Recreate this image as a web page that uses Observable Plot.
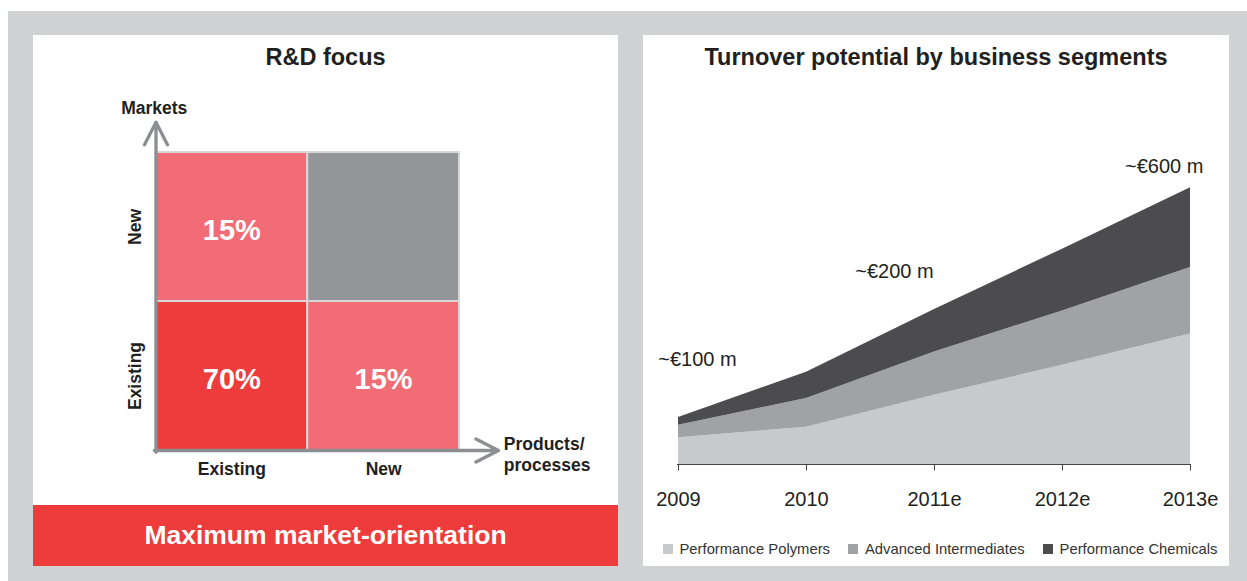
<!DOCTYPE html>
<html>
<head>
<meta charset="utf-8">
<script src="https://cdn.jsdelivr.net/npm/d3@7"></script>
<script src="https://cdn.jsdelivr.net/npm/@observablehq/plot@0.6"></script>
<style>
html, body { margin: 0; padding: 0; }
body { width: 1247px; height: 581px; position: relative; overflow: hidden; background: #fff;
       font-family: "Liberation Sans", Arial, sans-serif; color: #231f20; }
#frame { position: absolute; left: 8px; top: 11px; width: 1239px; height: 570px; background: #d1d2d4; }
.panel { position: absolute; top: 35px; height: 531px; background: #fff; }
.chart { position: absolute; left: 0; top: 0; }
.title { position: absolute; left: 0; right: 0; top: 11px; text-align: center; font-weight: bold;
         font-size: 23.5px; line-height: 23.5px; white-space: nowrap; }
.banner { position: absolute; left: 0; right: 0; top: 470px; height: 61px; background: #ee3b3b; color: #fff; }
.banner span { position: absolute; left: 0; right: 0; top: 16.6px; text-align: center; font-weight: bold;
               font-size: 26.5px; line-height: 26.5px; white-space: nowrap; }
#legend { position: absolute; left: 19.5px; top: 497px; }
#legend .lg-swatches { font-family: "Liberation Sans", Arial, sans-serif !important; font-size: 14.8px !important;
                       color: #333 !important; margin: 0 !important; min-height: 33px !important;
                       display: flex !important; align-items: center !important; flex-wrap: nowrap !important; }
#legend .lg-swatch { margin-right: 18px !important; display: inline-flex !important; align-items: center !important; white-space: nowrap; }
#legend .lg-swatch > svg { margin-right: 7px !important; }
</style>
</head>
<body>
<div id="frame"></div>
<div class="panel" id="left" style="left:33px; width:585px;">
  <div class="chart" id="matrix"></div>
  <div class="title">R&amp;D focus</div>
  <div class="banner"><span>Maximum market-orientation</span></div>
</div>
<div class="panel" id="right" style="left:643px; width:586px;">
  <div class="chart" id="turnover"></div>
  <div class="title">Turnover potential by business segments</div>
  <div id="legend"></div>
</div>
<script>
// ---------- data ----------
const products = ["Existing", "New"];          // x categories (left to right)
const markets = ["Existing", "New"];           // y categories (bottom to top)
const shares = [
  {market: "Existing", product: "Existing", share: 70},
  {market: "Existing", product: "New", share: 15},
  {market: "New", product: "Existing", share: 15},
  {market: "New", product: "New", share: null}
];
const productsAxisLabel = "Products/\nprocesses";
const marketsAxisLabel = "Markets";

const years = ["2009", "2010", "2011e", "2012e", "2013e"];
const segments = ["Performance Polymers", "Advanced Intermediates", "Performance Chemicals"];
const polymers = [58, 81, 150, 215, 283];
const intermediates = [27, 62, 94, 118, 144];
const chemicals = [17, 57, 92, 134, 173];
const annotations = [
  {year: "2009", label: "~€100 m"},
  {year: "2010", label: "~€200 m"},
  {year: "2013e", label: "~€600 m"}
];

// ---------- styles ----------
const font = "'Liberation Sans', Arial, sans-serif";
const segmentColors = ["#c8c9cb", "#a1a2a4", "#4c4c4e"];
const annotationOffsets = [{dx: 19, dy: -51}, {dx: 88, dy: -94}, {dx: -26.3, dy: -14.5}];
const cellFill = d => d.share == null ? "#949599" : d.share >= 50 ? "#ee3b3b" : "#f26c75";
const arrowEnds = [
  {x1: -0.011, y1: 0, x2: 2.257, y2: 0},
  {x1: 0, y1: -0.011, x2: 0, y2: 2.203}
];

// ---------- left: R&D matrix ----------
const px = d => products.indexOf(d.product);
const my = d => markets.indexOf(d.market);
const matrix = Plot.plot({
  width: 585, height: 470,
  marginLeft: 122.5, marginRight: 159, marginTop: 117, marginBottom: 55,
  x: {domain: [0, 2]},
  y: {domain: [0, 2]},
  color: {type: "identity"},
  style: {fontFamily: font, fontSize: "17.5px", fontWeight: "bold", color: "#231f20",
          background: "transparent", overflow: "visible"},
  marks: [
    Plot.rect(shares, {x1: px, x2: d => px(d) + 1, y1: my, y2: d => my(d) + 1,
                       fill: cellFill, stroke: "#d7d7d7", strokeWidth: 2}),
    Plot.text(shares.filter(d => d.share != null), {
      x: d => px(d) + 0.5, y: d => my(d) + 0.5, text: d => d.share + "%",
      fill: "white", fontSize: 29, fontWeight: "bold", dy: 4
    }),
    Plot.arrow(arrowEnds, {x1: "x1", y1: "y1", x2: "x2", y2: "y2", stroke: "#8d8e92",
                           strokeWidth: 3.3, headLength: 11.5, headAngle: 54}),
    Plot.axisX({ticks: [0.5, 1.5], tickFormat: v => products[Math.floor(v)], tickSize: 0,
                tickPadding: 12, label: null, fontWeight: "bold"}),
    Plot.axisY({ticks: [0.5, 1.5], tickFormat: v => markets[Math.floor(v)], tickSize: 0,
                tickRotate: -90, textAnchor: "middle", lineAnchor: "bottom", tickPadding: 15,
                label: null, fontWeight: "bold"}),
    Plot.text([marketsAxisLabel], {frameAnchor: "top-left", textAnchor: "start", dx: -34.8, dy: -51,
                                   fontWeight: "bold"}),
    Plot.text([productsAxisLabel], {frameAnchor: "bottom-right", textAnchor: "start", lineAnchor: "top",
                                    lineHeight: 1.22, dx: 44.3, dy: -16, fontWeight: "bold"})
  ]
});
document.getElementById("matrix").append(matrix);

// ---------- right: stacked area ----------
const seriesValues = [polymers, intermediates, chemicals];
const rows = segments.flatMap((s, si) => years.map((y, i) => ({year: y, segment: s, value: seriesValues[si][i]})));
const totals = years.map((_, i) => polymers[i] + intermediates[i] + chemicals[i]);

const turnover = Plot.plot({
  width: 586, height: 490,
  marginLeft: 34, marginRight: 38.7, marginTop: 152.3, marginBottom: 61,
  x: {type: "point", domain: years, padding: 0},
  y: {domain: [0, 600], axis: null},
  color: {domain: segments, range: segmentColors},
  style: {fontFamily: font, fontSize: "20px", color: "#231f20", background: "transparent", overflow: "visible"},
  marks: [
    Plot.areaY(rows, {x: "year", y: "value", fill: "segment"}),
    Plot.ruleY([0], {stroke: "#444", strokeWidth: 1}),
    Plot.axisX({tickSize: 6.5, tickPadding: 21, stroke: "#444", fill: "#231f20", label: null, fontSize: 20}),
    ...annotations.map((a, i) => Plot.text([a], {
      x: "year", y: d => totals[years.indexOf(d.year)], text: "label",
      lineAnchor: "bottom", fontSize: 20, fill: "#231f20",
      dx: annotationOffsets[i].dx, dy: annotationOffsets[i].dy
    }))
  ]
});
document.getElementById("turnover").append(turnover);

const legend = Plot.legend({
  color: {type: "ordinal", domain: segments, range: segmentColors},
  swatchSize: 10,
  className: "lg"
});
document.getElementById("legend").append(legend);
</script>
</body>
</html>
